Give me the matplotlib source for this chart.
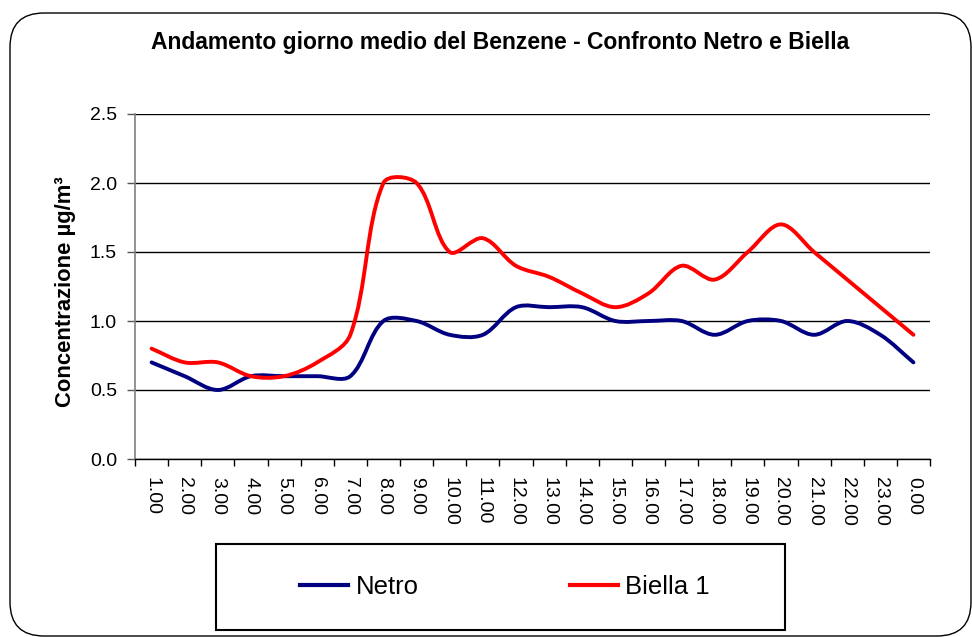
import numpy as np
import matplotlib
matplotlib.use("Agg")
import matplotlib.pyplot as plt
from matplotlib.path import Path
from matplotlib.patches import PathPatch, Rectangle, FancyBboxPatch
from matplotlib.lines import Line2D

plt.rcParams['font.family'] = ['Liberation Sans', 'DejaVu Sans']

hours = ["1.00", "2.00", "3.00", "4.00", "5.00", "6.00", "7.00", "8.00",
         "9.00", "10.00", "11.00", "12.00", "13.00", "14.00", "15.00", "16.00",
         "17.00", "18.00", "19.00", "20.00", "21.00", "22.00", "23.00", "0.00"]
netro = [0.70, 0.60, 0.50, 0.60, 0.60, 0.60, 0.60, 1.00, 1.00, 0.90, 0.90, 1.10,
         1.10, 1.10, 1.00, 1.00, 1.00, 0.90, 1.00, 1.00, 0.90, 1.00, 0.90, 0.70]
biella = [0.80, 0.70, 0.70, 0.60, 0.60, 0.70, 0.90, 2.00, 2.00, 1.50, 1.60, 1.40,
          1.32, 1.20, 1.10, 1.20, 1.40, 1.30, 1.50, 1.70, 1.50, 1.30, 1.10, 0.90]
series_names = ["Netro", "Biella 1"]
colors = ["#000080", "#FF0000"]

W, H = 972, 637
fig = plt.figure(figsize=(W / 100, H / 100), dpi=100)

# outer rounded border
border = FancyBboxPatch((10 / W, 1 / H), (971 - 10) / W, (624 - 1) / H,
                        boxstyle="round,pad=0,rounding_size=0.035",
                        mutation_aspect=W / H, transform=fig.transFigure,
                        facecolor="white", edgecolor="black", lw=1.0, zorder=-10)
fig.patches.append(border)

ax = fig.add_axes([135 / W, 1 - 459 / H, (930 - 135) / W, (459 - 114) / H])
ax.set_facecolor("none")
ax.set_zorder(2)
ax.set_xlim(0.5, len(hours) + 0.5)
ax.set_ylim(0, 2.5)


def smooth_path(xs, ys):
    """Excel-like smoothed line: cubic Bezier segments, tangents weighted by
    neighbouring segment lengths measured on screen."""
    data = np.column_stack([xs, ys]).astype(float)
    pts = ax.transData.transform(data)
    n = len(pts)
    verts = [pts[0]]
    codes = [Path.MOVETO]

    def seglen(a, b):
        return np.hypot(*(pts[b] - pts[a]))

    for i in range(n - 1):
        p1, p2 = pts[i], pts[i + 1]
        L = seglen(i, i + 1)
        if i > 0:
            Lp = seglen(i - 1, i)
            c1 = p1 + (p2 - pts[i - 1]) * L / (3.0 * (Lp + L))
        else:
            c1 = p1 + (p2 - p1) / 3.0
        if i + 2 < n:
            Ln = seglen(i + 1, i + 2)
            c2 = p2 - (pts[i + 2] - p1) * L / (3.0 * (L + Ln))
        else:
            c2 = p2 - (p2 - p1) / 3.0
        verts += [c1, c2, p2]
        codes += [Path.CURVE4] * 3
    verts = ax.transData.inverted().transform(np.array(verts))
    return Path(verts, codes)


x = np.arange(1, len(hours) + 1)
for vals, col in zip([netro, biella], colors):
    patch = PathPatch(smooth_path(x, vals), fill=False, edgecolor=col, lw=2.8,
                      capstyle="round", joinstyle="round", zorder=3)
    ax.add_patch(patch)

ax.set_yticks(np.arange(0, 2.51, 0.5))
ax.set_yticklabels([f"{v:.1f}" for v in np.arange(0, 2.51, 0.5)])
ax.yaxis.grid(True, color="black", lw=1.0)
ax.set_axisbelow(True)

ax.set_xticks(np.arange(0.5, len(hours) + 1, 1.0))
ax.set_xticklabels([])
ax.set_xticks(x, minor=True)
ax.set_xticklabels(hours, minor=True, rotation=-90, fontsize=14)
ax.tick_params(axis="x", which="major", length=5, width=1, color="black", direction="out")
ax.tick_params(axis="x", which="minor", length=0, pad=13)
ax.tick_params(axis="y", which="major", length=6, width=1, color="#555555",
               direction="out", labelsize=14, pad=7)

for s in ["top", "right"]:
    ax.spines[s].set_visible(False)
ax.spines["left"].set_color("#808080")
ax.spines["left"].set_linewidth(1.2)
ax.spines["bottom"].set_color("black")
ax.spines["bottom"].set_linewidth(1.0)

fig.text(500 / W, 1 - 43 / H,
         "Andamento giorno medio del Benzene - Confronto Netro e Biella",
         ha="center", va="center", fontsize=16.5, fontweight="bold")
fig.text(66 / W, 1 - 292 / H, "Concentrazione µg/m³", rotation=90,
         ha="center", va="center", fontsize=15.8, fontweight="bold")

# legend
fig.patches.append(Rectangle((216 / W, 1 - 630 / H), (785 - 216) / W, (630 - 544) / H,
                             transform=fig.transFigure, facecolor="white",
                             edgecolor="black", lw=1.5, zorder=1))
handles = [Line2D([], [], color=c, lw=3) for c in colors]
leg = fig.legend(handles, series_names, loc="center", ncol=2,
                 bbox_to_anchor=(505 / W, 1 - 587 / H), frameon=False,
                 fontsize=18.5, handlelength=1.85, handletextpad=0.3,
                 columnspacing=5.9)
leg.set_zorder(5)

fig.savefig("out.png", dpi=100)
